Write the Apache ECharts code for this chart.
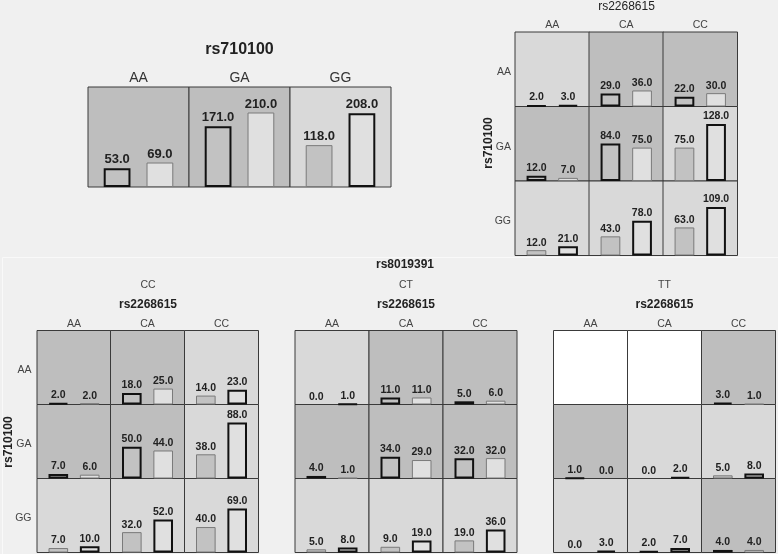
<!DOCTYPE html>
<html><head><meta charset="utf-8">
<script src="https://cdn.jsdelivr.net/npm/echarts@6/dist/echarts.min.js"></script>
<style>html,body{margin:0;padding:0;background:#f0f0f0}#c{width:778px;height:554px}</style>
</head><body><div id="c"></div>
<script>
// ---------- data ----------
const rowGenotypes = ['AA', 'GA', 'GG'];      // rs710100
const colGenotypes = ['AA', 'CA', 'CC'];      // rs2268615
const stratumGenotypes = ['CC', 'CT', 'TT'];  // rs8019391

// rs710100 marginal (top)
const topBarA = [53, 171, 118];
const topBarB = [69, 210, 208];
const topThickA = [1, 1, 0];
const topThickB = [0, 0, 1];
const topShade = ['D', 'D', 'L'];

// rs710100 x rs2268615 (top right)
const mainBarA = [[2, 29, 22], [12, 84, 75], [12, 43, 63]];
const mainBarB = [[3, 36, 30], [7, 75, 128], [21, 78, 109]];
const mainThickA = [[1, 1, 1], [1, 1, 0], [0, 0, 0]];
const mainThickB = [[1, 0, 0], [0, 0, 1], [1, 1, 1]];
const mainShade = [['L', 'D', 'D'], ['D', 'D', 'L'], ['L', 'L', 'L']];

// stratified by rs8019391
const ccBarA = [[2, 18, 14], [7, 50, 38], [7, 32, 40]];
const ccBarB = [[2, 25, 23], [6, 44, 88], [10, 52, 69]];
const ccThickA = [[1, 1, 0], [1, 1, 0], [0, 0, 0]];
const ccThickB = [[0, 0, 1], [0, 0, 1], [1, 1, 1]];
const ccShade = [['D', 'D', 'L'], ['D', 'D', 'L'], ['L', 'L', 'L']];

const ctBarA = [[0, 11, 5], [4, 34, 32], [5, 9, 19]];
const ctBarB = [[1, 11, 6], [1, 29, 32], [8, 19, 36]];
const ctThickA = [[0, 1, 1], [1, 1, 1], [0, 0, 0]];
const ctThickB = [[1, 0, 0], [0, 0, 0], [1, 1, 1]];
const ctShade = [['L', 'D', 'D'], ['D', 'D', 'D'], ['L', 'L', 'L']];

const ttBarA = [[null, null, 3], [1, 0, 5], [0, 2, 4]];
const ttBarB = [[null, null, 1], [0, 2, 8], [3, 7, 4]];
const ttThickA = [[0, 0, 1], [1, 0, 0], [0, 1, 1]];
const ttThickB = [[0, 0, 0], [0, 1, 1], [1, 1, 0]];
const ttShade = [['W', 'W', 'D'], ['D', 'L', 'L'], ['L', 'L', 'D']];

// ---------- style ----------
const FONT = 'Liberation Sans, Arial, sans-serif';
const SHADE = { D: '#bebebe', L: '#d9d9d9', W: '#ffffff' };
const FILL_A = '#c2c2c2', FILL_B = '#e0e0e0';

const grids = [], xAxes = [], yAxes = [], series = [], graphics = [];

function barItem(v, thick, fill) {
  if (v == null) return { value: null };
  return {
    value: v,
    itemStyle: {
      color: fill,
      borderColor: thick ? '#111' : '#7a7a7a',
      borderWidth: v === 0 ? 0 : (thick ? 2 : 1)
    }
  };
}

function addCell(x, y, w, h, shade, a, b, ta, tb, ymax, fs) {
  const gi = grids.length;
  grids.push({
    left: x, top: y, width: w, height: h, show: true,
    backgroundColor: SHADE[shade], borderColor: '#3a3a3a', borderWidth: 1
  });
  xAxes.push({ gridIndex: gi, type: 'category', data: [''], show: false });
  yAxes.push({ gridIndex: gi, type: 'value', min: 0, max: ymax, show: false });
  const lab = {
    show: true, position: 'top', distance: 2, color: '#222',
    fontWeight: 'bold', fontSize: fs, fontFamily: FONT,
    formatter: p => (p.value == null ? '' : Number(p.value).toFixed(1))
  };
  [[a, ta, FILL_A], [b, tb, FILL_B]].forEach(([v, t, f]) => {
    series.push({
      type: 'bar', xAxisIndex: gi, yAxisIndex: gi,
      barWidth: '26.5%', barGap: '60%', animation: false,
      data: [barItem(v, t, f)], label: lab, silent: true
    });
  });
}

function text(str, x, y, fs, weight, opt) {
  graphics.push(Object.assign({
    type: 'text', x: x, y: y,
    style: {
      text: str, fontSize: fs, fontWeight: weight || 'normal', fontFamily: FONT,
      fill: (opt && opt.fill) || '#222',
      textAlign: (opt && opt.align) || 'center', textVerticalAlign: 'middle'
    }
  }, (opt && opt.rotation) ? { rotation: opt.rotation } : {}));
}

// ---------- top marginal panel ----------
const topMax = Math.max(...topBarA, ...topBarB) / 0.745;
const topLefts = [88, 189, 290];
topLefts.forEach((lx, i) => {
  addCell(lx, 87, 101, 100, topShade[i], topBarA[i], topBarB[i], topThickA[i], topThickB[i], topMax, 13);
  text(rowGenotypes[i], lx + 50.5, 78, 14, 'normal', { fill: '#333' });
});
text('rs710100', 239.5, 50, 16, 'bold');

// ---------- generic 3x3 panel ----------
function panel(lefts, tops, cw, ch, A, B, TA, TB, S, ymax, opts) {
  for (let r = 0; r < 3; r++) {
    for (let c = 0; c < 3; c++) {
      addCell(lefts[c], tops[r], cw, ch, S[r][c], A[r][c], B[r][c], TA[r][c], TB[r][c], ymax, 10.5);
    }
  }
  const cx = lefts.map(l => l + cw / 2);
  colGenotypes.forEach((g, c) => text(g, cx[c], opts.colLabelY, 10.5, 'normal', { fill: '#444' }));
  if (opts.rowLabelX != null) {
    rowGenotypes.forEach((g, r) => text(g, opts.rowLabelX, tops[r] + ch / 2 + 3, 10.5, 'normal', { fill: '#444', align: 'right' }));
  }
}

// top right: rs710100 x rs2268615
const mainMax = Math.max(...mainBarA.flat(), ...mainBarB.flat()) / 0.765;
panel([515, 589, 663], [32, 106.5, 181], 74.5, 74.5, mainBarA, mainBarB, mainThickA, mainThickB, mainShade, mainMax,
  { colLabelY: 25, rowLabelX: 511 });
text('rs2268615', 626.5, 6.5, 12, 'normal');
text('rs710100', 489, 143, 12, 'bold', { rotation: Math.PI / 2 });

// bottom: stratified by rs8019391 (shared scale)
const allBottom = [ccBarA, ccBarB, ctBarA, ctBarB, ttBarA, ttBarB].map(m => m.flat()).flat().filter(v => v != null);
const botMax = Math.max(...allBottom) / 0.757;
const botTops = [330.5, 404.5, 478.5];
const botPanels = [
  { lefts: [37, 110.5, 184.5], A: ccBarA, B: ccBarB, TA: ccThickA, TB: ccThickB, S: ccShade, rowLabelX: 31.5 },
  { lefts: [295, 369, 443], A: ctBarA, B: ctBarB, TA: ctThickA, TB: ctThickB, S: ctShade, rowLabelX: null },
  { lefts: [553.5, 627.5, 701.5], A: ttBarA, B: ttBarB, TA: ttThickA, TB: ttThickB, S: ttShade, rowLabelX: null }
];
botPanels.forEach((p, i) => {
  panel(p.lefts, botTops, 74, 74, p.A, p.B, p.TA, p.TB, p.S, botMax, { colLabelY: 324, rowLabelX: p.rowLabelX });
  const mid = p.lefts[0] + 74 * 1.5;
  text(stratumGenotypes[i], mid, 285, 10.5, 'normal', { fill: '#444' });
  text('rs2268615', mid, 305, 12, 'bold');
});
text('rs8019391', 405, 265, 12, 'bold');
text('rs710100', 9, 442, 12, 'bold', { rotation: Math.PI / 2 });

// faint frame around the lower area
graphics.unshift({
  type: 'rect', shape: { x: 2.5, y: 257.5, width: 800, height: 400 },
  style: { fill: 'none', stroke: '#f9f9f9', lineWidth: 1 }, silent: true
});

const chart = echarts.init(document.getElementById('c'), null, { renderer: 'canvas' });
chart.setOption({
  backgroundColor: '#f0f0f0',
  animation: false,
  grid: grids, xAxis: xAxes, yAxis: yAxes, series: series,
  graphic: graphics
});
</script></body></html>
